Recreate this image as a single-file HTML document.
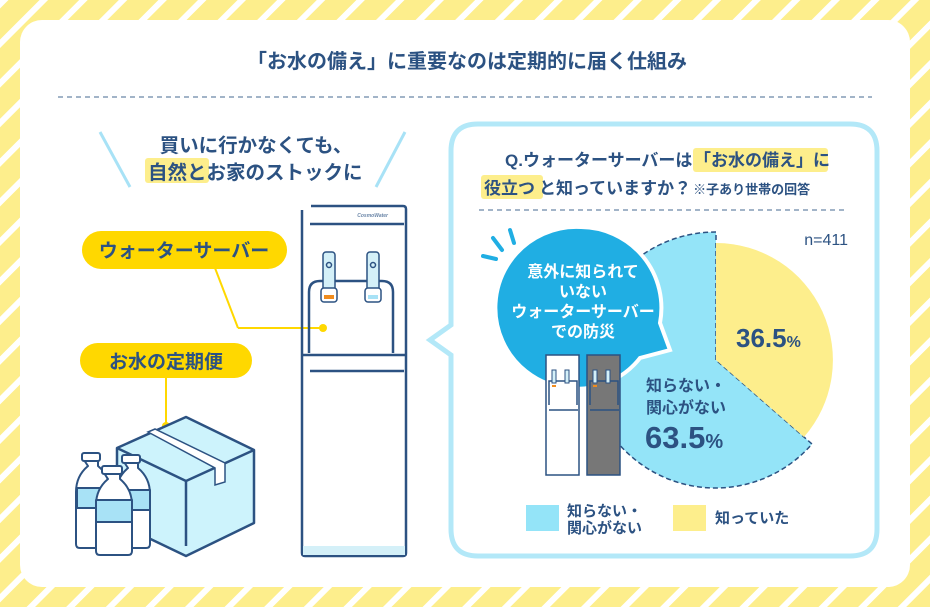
<!DOCTYPE html>
<html><head><meta charset="utf-8"><style>
html,body{margin:0;padding:0;width:930px;height:607px;overflow:hidden}
body{font-family:"Liberation Sans","Noto Sans CJK JP",sans-serif}
svg text{font-family:"Liberation Sans","Noto Sans CJK JP",sans-serif;font-weight:bold}
</style></head><body>
<svg width="930" height="607" viewBox="0 0 930 607" xmlns="http://www.w3.org/2000/svg">
<defs>
<pattern id="st" width="28" height="28" patternUnits="userSpaceOnUse" patternTransform="rotate(45)">
<rect width="28" height="28" fill="#fdee8c"/><rect x="0" width="6" height="28" fill="#fff"/>
</pattern>
</defs>
<rect width="930" height="607" fill="url(#st)"/>
<rect x="20" y="20" width="890" height="567" rx="22" fill="#fff"/>

<!-- title -->
<text x="467" y="68" text-anchor="middle" font-size="20" fill="#2c5282">「お水の備え」に重要なのは定期的に届く仕組み</text>
<line x1="58" y1="97" x2="872" y2="97" stroke="#6b86a8" stroke-width="1.3" stroke-dasharray="5,4"/>

<!-- left heading -->
<line x1="100" y1="132" x2="130" y2="187" stroke="#a8e2f6" stroke-width="3"/>
<line x1="405" y1="132" x2="376" y2="187" stroke="#a8e2f6" stroke-width="3"/>
<text x="256" y="152" text-anchor="middle" font-size="19.5" fill="#2c5282">買いに行かなくても、</text>
<rect x="145" y="158" width="64" height="25" rx="3" fill="#fdee8c"/>
<text x="148" y="179" font-size="19.5" fill="#2c5282">自然とお家のストックに</text>

<!-- pills -->
<line x1="215" y1="268" x2="238" y2="328" stroke="#ffd800" stroke-width="2"/>
<line x1="238" y1="328" x2="323" y2="328" stroke="#ffd800" stroke-width="2"/>
<circle cx="323" cy="328" r="4" fill="#ffd800"/>
<rect x="82" y="231" width="205" height="38" rx="19" fill="#ffd800"/>
<text x="184" y="257" text-anchor="middle" font-size="19" fill="#2c5282">ウォーターサーバー</text>
<line x1="166" y1="377" x2="166" y2="426" stroke="#ffd800" stroke-width="2"/>
<circle cx="166" cy="426" r="4" fill="#ffd800"/>
<rect x="80" y="343" width="172" height="35" rx="17.5" fill="#ffd800"/>
<text x="166" y="368" text-anchor="middle" font-size="19" fill="#2c5282">お水の定期便</text>

<!-- server -->
<g stroke="#2c5282" stroke-width="2.5" fill="none" stroke-linejoin="round">
<path d="M311 206 H403 Q406 206 406 209 V553 Q406 556 403 556 H305 Q302 556 302 553 V210"/>
<line x1="310" y1="224" x2="404" y2="224"/>
<path d="M309 353 V292 Q309 281 320 281 H382 Q393 281 393 292 V353"/>
<line x1="303" y1="355" x2="405" y2="355"/>
<line x1="310" y1="371" x2="404" y2="371"/>
</g>
<rect x="303" y="546" width="102" height="9" fill="#d4f0f8"/>
<text x="388" y="217" text-anchor="end" font-size="5" fill="#6b86a8" font-style="italic">CosmoWater</text>
<g stroke="#2c5282" stroke-width="1.5">
<rect x="323" y="252" width="12" height="48" rx="3" fill="#d4f0f8"/>
<rect x="321" y="288" width="16" height="14" rx="3" fill="#fff"/>
<rect x="324" y="295" width="10" height="4" fill="#f08c1e" stroke="none"/>
<circle cx="329" cy="265" r="2.5" fill="none"/>
<rect x="367" y="252" width="12" height="48" rx="3" fill="#d4f0f8"/>
<rect x="365" y="288" width="16" height="14" rx="3" fill="#fff"/>
<rect x="368" y="295" width="10" height="4" fill="#a8e2f6" stroke="none"/>
<circle cx="373" cy="265" r="2.5" fill="none"/>
</g>

<!-- box -->
<g stroke="#2c5282" stroke-width="2.5" stroke-linejoin="round" fill="#cdf3fc">
<path d="M117 448 L186 417 L254 450 L254 523 L186 556 L117 523 Z"/>
<path d="M117 448 L186 481 L254 450" fill="none"/>
<line x1="186" y1="481" x2="186" y2="546"/>
</g>
<path d="M148 432 L155 429 L225 463 L225 482 L215 485 L215 468 Z" fill="#fff" stroke="#2c5282" stroke-width="1.5"/>
<!-- bottles -->
<g stroke="#2c5282" stroke-width="2" fill="#fff" stroke-linejoin="round">
<path d="M84 460 h14 v6 q12 10 12 26 v52 q0 4 -4 4 h-26 q-4 0 -4 -4 v-52 q0 -16 12 -26z"/>
<rect x="82" y="453" width="18" height="8" rx="2"/>
<path d="M77 488 h33 v20 h-33z" fill="#a8e2f6"/>
<path d="M124 462 h14 v6 q12 10 12 26 v50 q0 4 -4 4 h-26 q-4 0 -4 -4 v-50 q0 -16 12 -26z"/>
<rect x="122" y="455" width="18" height="8" rx="2"/>
<path d="M117 490 h33 v20 h-33z" fill="#a8e2f6"/>
<path d="M104 473 h16 v6 q12 10 12 26 v46 q0 4 -4 4 h-28 q-4 0 -4 -4 v-46 q0 -16 12 -26z"/>
<rect x="102" y="466" width="20" height="8" rx="2"/>
<path d="M96 500 h36 v22 h-36z" fill="#a8e2f6"/>
</g>

<!-- right bubble -->
<path d="M478 124 H850 Q877 124 877 151 V529 Q877 556 850 556 H478 Q451 556 451 529 V355 L430 340 L451 325 V151 Q451 124 478 124 Z" fill="#fff" stroke="#b3e8f8" stroke-width="5"/>
<text x="505" y="166" font-size="17" fill="#2c5282">Q.ウォーターサーバーは</text>
<rect x="693" y="148" width="135" height="24" rx="3" fill="#fdee8c"/>
<text x="694" y="166" font-size="17" fill="#2c5282">「お水の備え」に</text>
<rect x="481" y="175" width="62" height="24" rx="3" fill="#fdee8c"/>
<text x="484" y="194" font-size="17" fill="#2c5282">役立つ<tspan dx="4">と知っていますか？</tspan><tspan font-size="13" dx="2">※子あり世帯の回答</tspan></text>
<line x1="479" y1="210" x2="848" y2="210" stroke="#6b86a8" stroke-width="1.3" stroke-dasharray="5,4"/>
<text x="848" y="245" text-anchor="end" font-size="16" fill="#2c5282" style="font-weight:normal">n=411</text>

<!-- pie -->
<path d="M716 360 L716 232 A128 128 0 1 0 812 444 Z" fill="#94e4f8" stroke="#2c5282" stroke-width="1.5" stroke-dasharray="5,3"/>
<path d="M716 360 L716 243 A117 117 0 0 1 804 437 Z" fill="#fdee8c"/>
<text x="736" y="347" font-size="26" fill="#2c5282">36.5<tspan font-size="16">%</tspan></text>
<text x="646" y="391" font-size="16" fill="#2c5282">知らない・</text>
<text x="646" y="413" font-size="16" fill="#2c5282">関心がない</text>
<text x="645" y="448" font-size="31" fill="#2c5282">63.5<tspan font-size="20">%</tspan></text>

<!-- callout -->
<path d="M581 227 A81 81 0 0 1 660 323 L670 350 L640 358 A81 81 0 1 1 581 227 Z" fill="#20aee3" stroke="#fff" stroke-width="4"/>
<g stroke="#20aee3" stroke-width="4" stroke-linecap="round">
<line x1="510" y1="230" x2="514" y2="243"/>
<line x1="493" y1="238" x2="502" y2="250"/>
<line x1="483" y1="256" x2="496" y2="259"/>
</g>
<g fill="#fff" font-size="16" text-anchor="middle">
<text x="583" y="277">意外に知られて</text>
<text x="583" y="297">いない</text>
<text x="583" y="317">ウォーターサーバー</text>
<text x="583" y="337">での防災</text>
</g>
<!-- mini servers -->
<g stroke="#2c5282" stroke-width="1.5">
<rect x="546" y="355" width="33" height="120" fill="#fff"/>
<rect x="587" y="355" width="33" height="120" fill="#777"/>
<path d="M549 405 V381 h28 v24 M549 410 h29 M590 405 V381 h28 v24 M590 410 h29" fill="none"/>
<rect x="552" y="370" width="4" height="13" fill="#d4f0f8" stroke-width="1"/>
<rect x="565" y="370" width="4" height="13" fill="#d4f0f8" stroke-width="1"/>
<rect x="593" y="370" width="4" height="13" fill="#d4f0f8" stroke-width="1"/>
<rect x="606" y="370" width="4" height="13" fill="#d4f0f8" stroke-width="1"/>
</g>
<rect x="552" y="385" width="4" height="2" fill="#f08c1e"/>
<rect x="593" y="385" width="4" height="2" fill="#f08c1e"/>

<!-- legend -->
<rect x="526" y="505" width="33" height="26" fill="#94e4f8"/>
<text x="567" y="516" font-size="15" fill="#2c5282">知らない・</text>
<text x="567" y="533" font-size="15" fill="#2c5282">関心がない</text>
<rect x="673" y="505" width="33" height="26" fill="#fdee8c"/>
<text x="715" y="523" font-size="15" fill="#2c5282">知っていた</text>
</svg>
</body></html>
